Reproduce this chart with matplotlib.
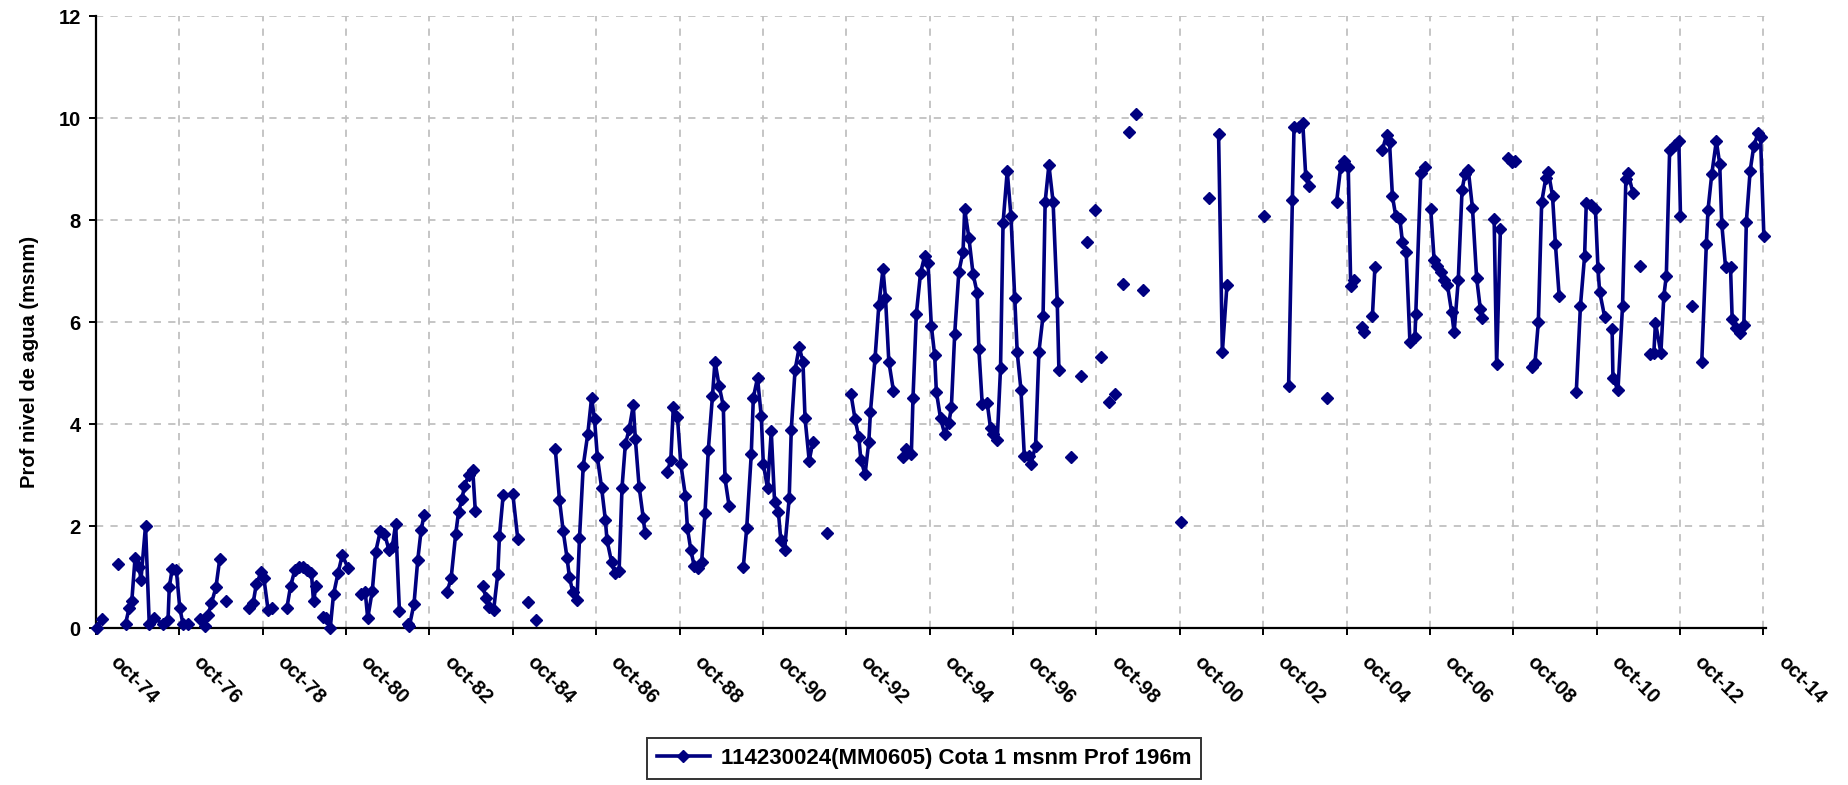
import numpy as np
import matplotlib
matplotlib.use("Agg")
import matplotlib.pyplot as plt
from matplotlib.transforms import ScaledTranslation

nan = np.nan

# fechas en años decimales (oct = .75); nan separa tramos sin medición
years = [
    1974.77, 1974.89, nan,
    1975.27, nan,
    1975.46, 1975.55, 1975.61, 1975.69, 1975.79, 1975.83, 1975.94, 1976.03, 1976.15,
    1976.36, 1976.48, 1976.51, 1976.58, 1976.68, 1976.76, 1976.84, 1976.96, nan,
    1977.24, 1977.36, 1977.44, 1977.52, 1977.63, 1977.72, nan,
    1977.86, nan,
    1978.42, 1978.52, 1978.60, 1978.72, 1978.78, 1978.88, 1978.98, nan,
    1979.33, 1979.42, 1979.52, 1979.63, 1979.72, 1979.82, 1979.92, 1979.97, 1980.03, nan,
    1980.20, 1980.28, 1980.37, 1980.45, 1980.56, 1980.66, 1980.80, nan,
    1981.12, 1981.21, 1981.27, 1981.38, 1981.46, 1981.57, 1981.67, 1981.78, 1981.86,
    1981.94, 1982.03, nan,
    1982.23, 1982.27, 1982.38, 1982.47, 1982.55, 1982.62, nan,
    1983.17, 1983.27, 1983.38, 1983.45, 1983.53, 1983.59, 1983.69, 1983.79, 1983.85, nan,
    1984.03, 1984.11, 1984.17, 1984.29, 1984.39, 1984.43, 1984.52, nan,
    1984.75, 1984.87, nan,
    1985.11, nan,
    1985.30, nan,
    1985.77, 1985.87, 1985.96, 1986.05, 1986.11, 1986.19, 1986.29, 1986.35, 1986.44,
    1986.55, 1986.64, 1986.71, 1986.78, 1986.88, 1986.97, 1987.01, 1987.12, 1987.20,
    1987.30, 1987.37, 1987.45, 1987.54, 1987.64, 1987.69, 1987.78, 1987.88, 1987.92, nan,
    1988.45, 1988.54, 1988.60, 1988.70, 1988.78, 1988.89, 1988.94, 1989.02, 1989.10,
    1989.20, 1989.28, 1989.36, 1989.44, 1989.54, 1989.60, 1989.70, 1989.80, 1989.84,
    1989.94, nan,
    1990.28, 1990.36, 1990.47, 1990.52, 1990.62, 1990.71, 1990.76, 1990.86, 1990.95,
    1991.03, 1991.12, 1991.18, 1991.27, 1991.38, 1991.43, 1991.52, 1991.62, 1991.71,
    1991.76, 1991.86, 1991.95, nan,
    1992.29, nan,
    1992.86, 1992.96, 1993.05, 1993.10, 1993.20, 1993.29, 1993.33, 1993.44, 1993.53,
    1993.63, 1993.69, 1993.77, 1993.88, nan,
    1994.11, 1994.19, 1994.31, 1994.35, 1994.43, 1994.53, 1994.63, 1994.71, 1994.79,
    1994.87, 1994.91, 1995.01, 1995.11, 1995.21, 1995.27, 1995.35, 1995.45, 1995.55,
    1995.59, 1995.69, 1995.79, 1995.89, 1995.93, 1996.01, 1996.13, 1996.21, 1996.27,
    1996.37, 1996.45, 1996.51, 1996.61, 1996.70, 1996.79, 1996.85, 1996.94, 1997.02,
    1997.13, 1997.18, 1997.29, 1997.37, 1997.47, 1997.52, 1997.61, 1997.71, 1997.81,
    1997.85, nan,
    1998.13, nan, 1998.37, nan, 1998.52, nan, 1998.71, nan, 1998.85, nan, 1999.04, nan,
    1999.19, nan, 1999.38, nan, 1999.52, nan, 1999.71, nan, 1999.87, nan, 2000.78, nan,
    2001.44, nan,
    2001.68, 2001.77, 2001.88, nan,
    2002.78, nan,
    2003.36, 2003.45, 2003.49, 2003.60, 2003.70, 2003.77, 2003.84, nan,
    2004.27, nan,
    2004.51, 2004.61, 2004.70, 2004.79, 2004.85, 2004.94, nan,
    2005.11, 2005.17, nan,
    2005.37, 2005.43, nan,
    2005.61, 2005.71, 2005.78, 2005.85, 2005.93, 2006.03, 2006.09, 2006.18, 2006.27,
    2006.39, 2006.41, 2006.53, 2006.63, nan,
    2006.77, 2006.85, 2006.93, 2007.01, 2007.09, 2007.17, 2007.27, 2007.33, 2007.43,
    2007.52, 2007.59, 2007.67, 2007.77, 2007.87, 2007.96, 2008.01, nan,
    2008.29, 2008.35, 2008.44, nan,
    2008.63, 2008.71, 2008.80, nan,
    2009.20, 2009.27, 2009.35, 2009.43, 2009.53, 2009.59, 2009.69, 2009.76, 2009.85, nan,
    2010.26, 2010.36, 2010.46, 2010.50, 2010.62, 2010.72, 2010.78, 2010.82, 2010.94, nan,
    2011.12, 2011.14, 2011.26, 2011.37, 2011.45, 2011.50, 2011.62, nan,
    2011.80, nan,
    2012.02, 2012.12, 2012.16, 2012.29, 2012.36, 2012.42, 2012.50, 2012.62, 2012.72,
    2012.76, nan,
    2013.04, nan,
    2013.27, 2013.38, 2013.42, 2013.51, 2013.62, 2013.70, 2013.75, 2013.84, 2013.96,
    2014.00, 2014.10, 2014.18, 2014.28, 2014.34, 2014.43, 2014.52, 2014.62, 2014.68,
    2014.76,
]

level = [
    0.00, 0.18, nan,
    1.27, nan,
    0.09, 0.41, 0.53, 1.39, 1.21, 0.95, 2.01, 0.08, 0.21,
    0.08, 0.17, 0.81, 1.16, 1.14, 0.41, 0.08, 0.08, nan,
    0.18, 0.05, 0.26, 0.49, 0.81, 1.36, nan,
    0.53, nan,
    0.40, 0.49, 0.88, 1.11, 0.98, 0.36, 0.40, nan,
    0.40, 0.83, 1.14, 1.21, 1.21, 1.15, 1.08, 0.53, 0.83, nan,
    0.22, 0.20, 0.00, 0.67, 1.09, 1.44, 1.18, nan,
    0.68, 0.72, 0.20, 0.74, 1.50, 1.90, 1.86, 1.54, 1.60,
    2.05, 0.35, nan,
    0.08, 0.05, 0.48, 1.34, 1.92, 2.22, nan,
    0.71, 0.98, 1.85, 2.29, 2.53, 2.79, 3.00, 3.10, 2.31, nan,
    0.84, 0.59, 0.43, 0.36, 1.07, 1.82, 2.62, nan,
    2.64, 1.75, nan,
    0.51, nan,
    0.17, nan,
    3.51, 2.52, 1.90, 1.39, 1.00, 0.71, 0.56, 1.77, 3.19,
    3.82, 4.52, 4.10, 3.35, 2.76, 2.13, 1.73, 1.30, 1.08,
    1.13, 2.76, 3.61, 3.90, 4.37, 3.71, 2.78, 2.16, 1.88, nan,
    3.06, 3.30, 4.33, 4.14, 3.22, 2.60, 1.96, 1.54, 1.23,
    1.18, 1.30, 2.26, 3.50, 4.56, 5.23, 4.75, 4.36, 2.94,
    2.39, nan,
    1.21, 1.96, 3.41, 4.52, 4.91, 4.16, 3.22, 2.75, 3.86,
    2.47, 2.29, 1.73, 1.54, 2.55, 3.89, 5.06, 5.51, 5.23,
    4.12, 3.29, 3.66, nan,
    1.88, nan,
    4.60, 4.10, 3.75, 3.30, 3.02, 3.66, 4.25, 5.30, 6.33,
    7.04, 6.48, 5.23, 4.66, nan,
    3.35, 3.51, 3.41, 4.52, 6.16, 6.96, 7.30, 7.16, 5.93,
    5.35, 4.64, 4.12, 3.81, 4.03, 4.33, 5.77, 6.99, 7.38,
    8.21, 7.66, 6.95, 6.57, 5.47, 4.40, 4.42, 3.92, 3.81,
    3.69, 5.11, 7.94, 8.96, 8.08, 6.48, 5.41, 4.67, 3.38,
    3.37, 3.22, 3.58, 5.42, 6.13, 8.36, 9.08, 8.36, 6.40,
    5.06, nan,
    3.35, nan, 4.95, nan, 7.57, nan, 8.20, nan, 5.31, nan, 4.43, nan,
    4.59, nan, 6.75, nan, 9.73, nan, 10.08, nan, 6.63, nan, 2.08, nan,
    8.44, nan,
    9.69, 5.41, 6.72, nan,
    8.08, nan,
    4.75, 8.40, 9.82, 9.83, 9.90, 8.87, 8.67, nan,
    4.51, nan,
    8.35, 9.05, 9.16, 9.05, 6.71, 6.83, nan,
    5.90, 5.80, nan,
    6.12, 7.08, nan,
    9.38, 9.67, 9.53, 8.47, 8.08, 8.02, 7.57, 7.38, 5.61,
    5.72, 6.16, 8.92, 9.04, nan,
    8.21, 7.22, 7.10, 6.98, 6.83, 6.73, 6.20, 5.80, 6.83,
    8.59, 8.90, 8.98, 8.24, 6.87, 6.25, 6.08, nan,
    8.02, 5.18, 7.82, nan,
    9.21, 9.13, 9.15, nan,
    5.13, 5.21, 6.00, 8.35, 8.83, 8.95, 8.48, 7.53, 6.51, nan,
    4.63, 6.32, 7.30, 8.33, 8.30, 8.21, 7.07, 6.60, 6.11, nan,
    5.86, 4.91, 4.67, 6.32, 8.81, 8.92, 8.54, nan,
    7.10, nan,
    5.37, 5.39, 5.99, 5.40, 6.51, 6.91, 9.38, 9.47, 9.56,
    8.08, nan,
    6.32, nan,
    5.22, 7.53, 8.20, 8.90, 9.55, 9.11, 7.93, 7.09, 7.08,
    6.06, 5.88, 5.78, 5.95, 7.97, 8.96, 9.46, 9.70, 9.62,
    7.69,
]

tick_years = list(range(1974, 2015, 2))
tick_labels = [f"oct-{y % 100:02d}" for y in tick_years]
series_name = "114230024(MM0605) Cota 1 msnm Prof 196m"

plt.rcParams["font.family"] = ["Liberation Sans", "DejaVu Sans"]
plt.rcParams["font.weight"] = "bold"
FS = 14.5

fig = plt.figure(figsize=(18.48, 7.85), dpi=100)
ax = fig.add_axes([0.0519, 0.1994, 0.9037, 0.7802])

navy = "#000080"
ax.plot(years, level, color=navy, lw=2.6, marker="D", ms=6.3,
        mfc=navy, mec=navy, clip_on=False, zorder=3, label=series_name)

ax.set_xlim(1974.75, 2014.81)
ax.set_ylim(0, 12)
ax.set_yticks(range(0, 13, 2))
ax.set_xticks([y + 0.75 for y in tick_years])
ax.set_xticklabels(tick_labels, rotation=-45, ha="left", va="top",
                   rotation_mode="anchor")
ax.tick_params(axis="both", labelsize=FS, length=5, width=1.4, direction="out")
ax.tick_params(axis="x", pad=12)
ax.tick_params(axis="y", pad=6)
shift = ScaledTranslation(0.24, 0, fig.dpi_scale_trans)
for lab in ax.get_xticklabels():
    lab.set_fontweight("bold")
    lab.set_transform(lab.get_transform() + shift)
for lab in ax.get_yticklabels():
    lab.set_fontweight("bold")

ax.grid(True, color="#c0c0c0", ls=(0, (4, 4)), lw=1.3, zorder=0)
for s in ("top", "right"):
    ax.spines[s].set_visible(False)
for s in ("left", "bottom"):
    ax.spines[s].set_linewidth(1.6)

ax.set_ylabel("Prof nivel de agua (msnm)", fontsize=FS, fontweight="bold")
ax.yaxis.set_label_coords(-0.034, 0.435)

leg = fig.legend(loc="center", bbox_to_anchor=(0.5, 0.034), ncol=1,
                 frameon=True, fancybox=False, handlelength=2.4,
                 handletextpad=0.5, borderpad=0.45, borderaxespad=0,
                 prop={"weight": "bold", "size": 16})
leg.get_frame().set_edgecolor("black")
leg.get_frame().set_linewidth(1.4)

fig.savefig("out.png", dpi=100)
